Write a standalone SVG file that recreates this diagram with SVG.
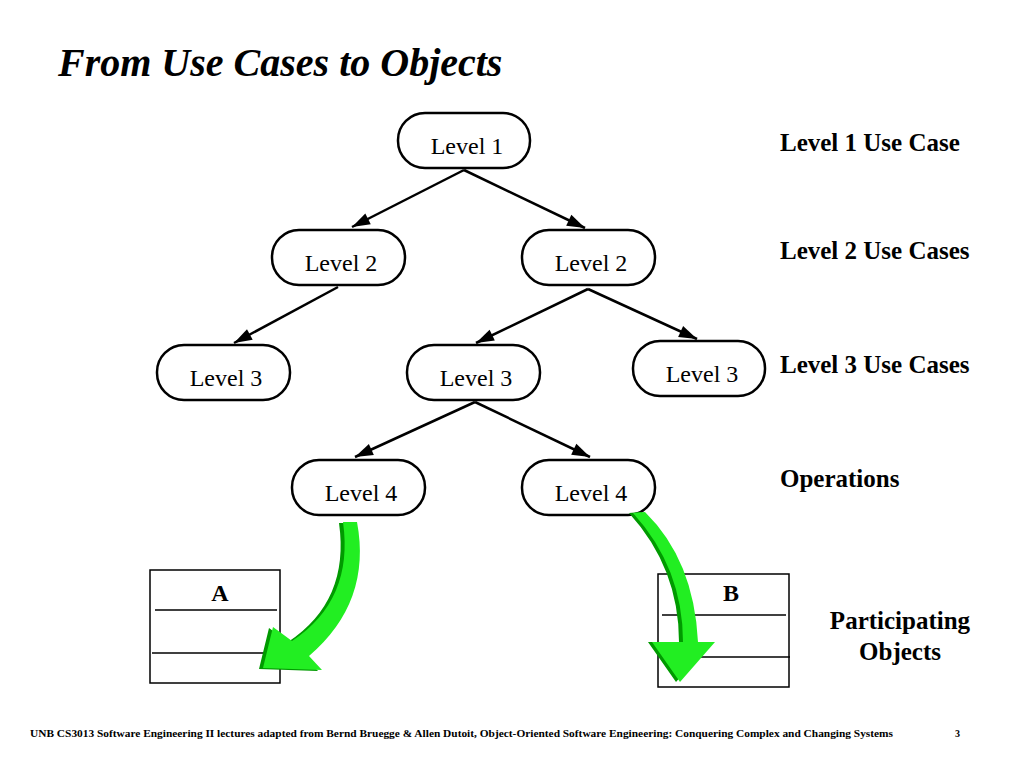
<svg xmlns="http://www.w3.org/2000/svg" width="1024" height="768" viewBox="0 0 1024 768">
<defs>
<style>
.node rect{fill:#fff;stroke:#000;stroke-width:2.5}
.node text{font-family:"Liberation Serif",serif;font-size:24px;text-anchor:middle}
.lbl{font-family:"Liberation Serif",serif;font-size:25px;font-weight:bold}
.conn line{stroke:#000;stroke-width:2.5}
.obj rect{fill:#fff;stroke:#000;stroke-width:1.5}
.obj line{stroke:#000;stroke-width:1.5}
.obj text{font-family:"Liberation Serif",serif;font-size:24px;font-weight:bold;text-anchor:middle}
</style>
<marker id="ah" viewBox="0 0 18 12" refX="18" refY="6" markerWidth="18" markerHeight="12" markerUnits="userSpaceOnUse" orient="auto" overflow="visible">
<path d="M0,0 L18,6 L0,12 Z" fill="#000"/>
</marker>
</defs>
<rect width="1024" height="768" fill="#fff"/>
<text x="58" y="76" font-family="Liberation Serif,serif" font-size="40" font-weight="bold" font-style="italic">From Use Cases to Objects</text>

<g class="conn">
<line x1="464" y1="170" x2="352" y2="227" marker-end="url(#ah)"/>
<line x1="464" y1="170" x2="585" y2="228" marker-end="url(#ah)"/>
<line x1="338" y1="287" x2="234" y2="343" marker-end="url(#ah)"/>
<line x1="588" y1="289" x2="476" y2="343" marker-end="url(#ah)"/>
<line x1="588" y1="289" x2="697" y2="339" marker-end="url(#ah)"/>
<line x1="475" y1="402" x2="355" y2="457" marker-end="url(#ah)"/>
<line x1="475" y1="402" x2="590" y2="457" marker-end="url(#ah)"/>
</g>

<g id="n1" class="node"><rect x="398" y="113" width="132" height="55" rx="27"/><text x="467" y="154">Level 1</text></g>
<g id="n2a" class="node"><rect x="272" y="230" width="133" height="55" rx="27"/><text x="341" y="271">Level 2</text></g>
<g id="n2b" class="node"><rect x="522" y="230" width="133" height="55" rx="27"/><text x="591" y="271">Level 2</text></g>
<g id="n3a" class="node"><rect x="157" y="345" width="133" height="55" rx="27"/><text x="226" y="386">Level 3</text></g>
<g id="n3b" class="node"><rect x="407" y="345" width="133" height="55" rx="27"/><text x="476" y="386">Level 3</text></g>
<g id="n3c" class="node"><rect x="633" y="341" width="132" height="55" rx="27"/><text x="702" y="382">Level 3</text></g>
<g id="n4a" class="node"><rect x="292" y="460" width="133" height="55" rx="27"/><text x="361" y="501">Level 4</text></g>
<g id="n4b" class="node"><rect x="522" y="460" width="133" height="55" rx="27"/><text x="591" y="501">Level 4</text></g>

<g id="objA" class="obj">
<rect x="150" y="570" width="130" height="113"/>
<line x1="155" y1="610" x2="277" y2="610"/>
<line x1="152" y1="653" x2="272" y2="653"/>
<text x="220" y="601">A</text>
</g>
<g id="objB" class="obj">
<rect x="658" y="574" width="131" height="113"/>
<line x1="662" y1="615" x2="786" y2="615"/>
<line x1="660" y1="657" x2="790" y2="657"/>
<text x="731" y="601">B</text>
</g>

<g id="arrowA">
<path d="M343,522 Q354,600 292,641 L273,627 L263,668 L322,670 L309,656 Q372,602 357,522 Z" fill="#009a00" transform="translate(-4,1)"/>
<path d="M343,522 Q354,600 292,641 L273,627 L263,668 L322,670 L309,656 Q372,602 357,522 Z" fill="#22ee22"/>
</g>
<g id="arrowB">
<path d="M633,513 Q683,568 683,642 L652,642 L680,682 L715,642 L698,642 Q694,560 645,512 Z" fill="#009a00" transform="translate(-4,0)"/>
<path d="M633,513 Q683,568 683,642 L652,642 L680,682 L715,642 L698,642 Q694,560 645,512 Z" fill="#22ee22"/>
</g>

<text class="lbl" x="780" y="151">Level 1 Use Case</text>
<text class="lbl" x="780" y="259">Level 2 Use Cases</text>
<text class="lbl" x="780" y="373">Level 3 Use Cases</text>
<text class="lbl" x="780" y="487">Operations</text>
<text class="lbl" x="900" y="629" text-anchor="middle">Participating</text>
<text class="lbl" x="900" y="660" text-anchor="middle">Objects</text>

<text x="30" y="737" font-family="Liberation Serif,serif" font-size="10" font-weight="bold" textLength="863" lengthAdjust="spacingAndGlyphs">UNB CS3013 Software Engineering II lectures adapted from Bernd Bruegge &amp; Allen Dutoit, Object-Oriented Software Engineering: Conquering Complex and Changing Systems</text>
<text x="955" y="737" font-family="Liberation Serif,serif" font-size="10" font-weight="bold">3</text>
</svg>
